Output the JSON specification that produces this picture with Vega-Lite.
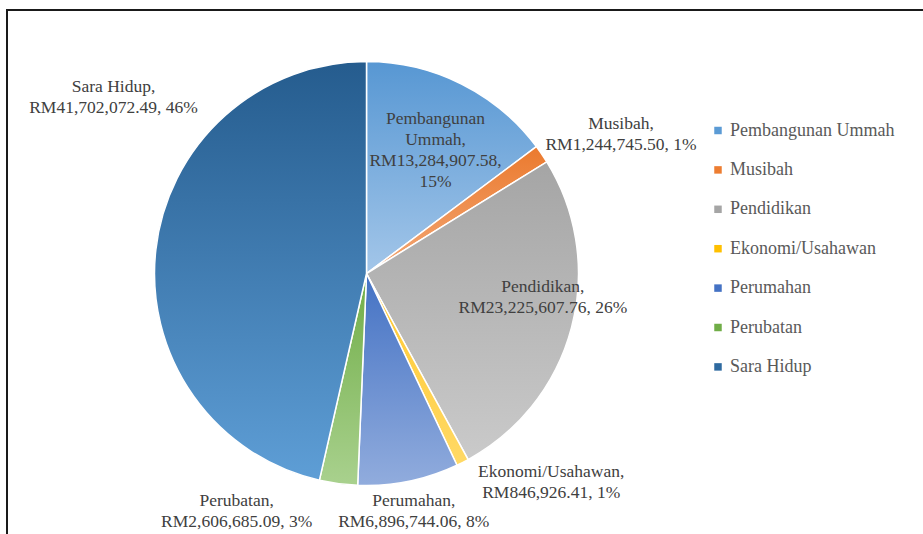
{
  "$schema": "https://vega.github.io/schema/vega-lite/v6.json",
  "width": 918,
  "height": 526,
  "autosize": {"type": "none"},
  "padding": {"left": 7, "top": 10, "right": -2, "bottom": -2},
  "background": "white",
  "view": {"stroke": "#1a1a1a", "strokeWidth": 2, "fill": "white"},
  "config": {
    "font": "Liberation Serif",
    "legend": {"labelFont": "Liberation Serif"},
    "text": {"font": "Liberation Serif"},
    "style": {"guide-label": {"font": "Liberation Serif"}}
  },
  "data": {
    "values": [
      {"name": "Pembangunan Ummah", "o": 1, "value": 13284907.58, "label": ["Pembangunan", "Ummah,", "RM13,284,907.58,", "15%"]},
      {"name": "Musibah", "o": 2, "value": 1244745.50, "label": ["Musibah,", "RM1,244,745.50, 1%"]},
      {"name": "Pendidikan", "o": 3, "value": 23225607.76, "label": ["Pendidikan,", "RM23,225,607.76, 26%"]},
      {"name": "Ekonomi/Usahawan", "o": 4, "value": 846926.41, "label": ["Ekonomi/Usahawan,", "RM846,926.41, 1%"]},
      {"name": "Perumahan", "o": 5, "value": 6896744.06, "label": ["Perumahan,", "RM6,896,744.06, 8%"]},
      {"name": "Perubatan", "o": 6, "value": 2606685.09, "label": ["Perubatan,", "RM2,606,685.09, 3%"]},
      {"name": "Sara Hidup", "o": 7, "value": 41702072.49, "label": ["Sara Hidup,", "RM41,702,072.49, 46%"]}
    ]
  },
  "transform": [
    {"stack": "value", "groupby": [], "sort": [{"field": "o", "order": "ascending"}], "as": ["start", "end"]},
    {"calculate": "(datum.start + datum.end) / 2", "as": "mid"}
  ],
  "layer": [
    {
      "mark": {"type": "arc", "x": 359.5, "y": 263.5, "outerRadius": 212, "stroke": "white", "strokeWidth": 1.5},
      "encoding": {
        "theta": {"field": "end", "type": "quantitative", "scale": {"zero": true, "nice": false}},
        "theta2": {"field": "start"},
        "color": {
          "field": "name",
          "type": "nominal",
          "scale": {
            "domain": ["Pembangunan Ummah", "Musibah", "Pendidikan", "Ekonomi/Usahawan", "Perumahan", "Perubatan", "Sara Hidup"],
            "range": ["#5B9BD5", "#ED7D31", "#A5A5A5", "#FFC000", "#4472C4", "#70AD47", "#2E6AA0"]
          },
          "legend": {
            "orient": "none",
            "legendX": 702,
            "legendY": 111.5,
            "title": null,
            "padding": 0,
            "symbolType": "square",
            "symbolSize": 56,
            "symbolStrokeWidth": 0,
            "labelFont": "Liberation Serif",
            "labelFontSize": 18,
            "labelColor": "#595959",
            "labelOffset": 3,
            "rowPadding": 21.4,
            "labelLimit": 300,
            "encode": {"labels": {"update": {"font": {"value": "Liberation Serif"}}}}
          }
        }
      }
    },
    {
      "mark": {"type": "arc", "x": 359.5, "y": 263.5, "outerRadius": 212, "stroke": "white", "strokeWidth": 1.5},
      "encoding": {
        "theta": {"field": "end", "type": "quantitative"},
        "theta2": {"field": "start"},
        "fill": {
          "condition": [
            {"test": "datum.name === 'Pembangunan Ummah'", "value": {"gradient": "linear", "x1": 0, "y1": 0, "x2": 0, "y2": 1, "stops": [{"offset": 0, "color": "#5797D3"}, {"offset": 1, "color": "#A3C6E9"}]}},
            {"test": "datum.name === 'Musibah'", "value": {"gradient": "linear", "x1": 0, "y1": 0, "x2": 0, "y2": 1, "stops": [{"offset": 0, "color": "#EB7A2E"}, {"offset": 1, "color": "#F3A877"}]}},
            {"test": "datum.name === 'Pendidikan'", "value": {"gradient": "linear", "x1": 0, "y1": 0, "x2": 0, "y2": 1, "stops": [{"offset": 0, "color": "#A5A5A5"}, {"offset": 1, "color": "#CACACA"}]}},
            {"test": "datum.name === 'Ekonomi/Usahawan'", "value": {"gradient": "linear", "x1": 0, "y1": 0, "x2": 0, "y2": 1, "stops": [{"offset": 0, "color": "#FFC82E"}, {"offset": 1, "color": "#FFD966"}]}},
            {"test": "datum.name === 'Perumahan'", "value": {"gradient": "linear", "x1": 0, "y1": 0, "x2": 0, "y2": 1, "stops": [{"offset": 0, "color": "#4472C4"}, {"offset": 1, "color": "#91ACDD"}]}},
            {"test": "datum.name === 'Perubatan'", "value": {"gradient": "linear", "x1": 0, "y1": 0, "x2": 0, "y2": 1, "stops": [{"offset": 0, "color": "#70AD47"}, {"offset": 1, "color": "#A9D18E"}]}},
            {"test": "datum.name === 'Sara Hidup'", "value": {"gradient": "linear", "x1": 0, "y1": 0, "x2": 0, "y2": 1, "stops": [{"offset": 0, "color": "#255C8E"}, {"offset": 1, "color": "#5E9ED6"}]}}
          ],
          "value": "#999999"
        }
      }
    },
    {
      "transform": [{"filter": "datum.name === 'Pembangunan Ummah'"}],
      "mark": {"type": "text", "x": 359.5, "y": 263.5, "radius": 141, "thetaOffset": 0.047, "dy": -31.5, "font": "Liberation Serif", "fontSize": 17.5, "lineHeight": 21, "color": "#404040", "align": "center", "baseline": "middle"},
      "encoding": {"theta": {"field": "mid", "type": "quantitative"}, "text": {"field": "label"}}
    },
    {
      "transform": [{"filter": "datum.name === 'Musibah'"}],
      "mark": {"type": "text", "x": 359.5, "y": 263.5, "radius": 290, "thetaOffset": 0.098, "dy": -10.5, "font": "Liberation Serif", "fontSize": 17.5, "lineHeight": 21, "color": "#404040", "align": "center", "baseline": "middle"},
      "encoding": {"theta": {"field": "mid", "type": "quantitative"}, "text": {"field": "label"}}
    },
    {
      "transform": [{"filter": "datum.name === 'Pendidikan'"}],
      "mark": {"type": "text", "x": 359.5, "y": 263.5, "radius": 178, "thetaOffset": -0.124, "dy": -10.5, "font": "Liberation Serif", "fontSize": 17.5, "lineHeight": 21, "color": "#404040", "align": "center", "baseline": "middle"},
      "encoding": {"theta": {"field": "mid", "type": "quantitative"}, "text": {"field": "label"}}
    },
    {
      "transform": [{"filter": "datum.name === 'Ekonomi/Usahawan'"}],
      "mark": {"type": "text", "x": 359.5, "y": 263.5, "radius": 279, "thetaOffset": -0.253, "dy": -10.5, "font": "Liberation Serif", "fontSize": 17.5, "lineHeight": 21, "color": "#404040", "align": "center", "baseline": "middle"},
      "encoding": {"theta": {"field": "mid", "type": "quantitative"}, "text": {"field": "label"}}
    },
    {
      "transform": [{"filter": "datum.name === 'Perumahan'"}],
      "mark": {"type": "text", "x": 359.5, "y": 263.5, "radius": 243, "thetaOffset": 0.004, "dy": -10.5, "font": "Liberation Serif", "fontSize": 17.5, "lineHeight": 21, "color": "#404040", "align": "center", "baseline": "middle"},
      "encoding": {"theta": {"field": "mid", "type": "quantitative"}, "text": {"field": "label"}}
    },
    {
      "transform": [{"filter": "datum.name === 'Perubatan'"}],
      "mark": {"type": "text", "x": 359.5, "y": 263.5, "radius": 271, "thetaOffset": 0.367, "dy": -10.5, "font": "Liberation Serif", "fontSize": 17.5, "lineHeight": 21, "color": "#404040", "align": "center", "baseline": "middle"},
      "encoding": {"theta": {"field": "mid", "type": "quantitative"}, "text": {"field": "label"}}
    },
    {
      "transform": [{"filter": "datum.name === 'Sara Hidup'"}],
      "mark": {"type": "text", "x": 359.5, "y": 263.5, "radius": 308, "thetaOffset": 0.495, "dy": -10.5, "font": "Liberation Serif", "fontSize": 17.5, "lineHeight": 21, "color": "#404040", "align": "center", "baseline": "middle"},
      "encoding": {"theta": {"field": "mid", "type": "quantitative"}, "text": {"field": "label"}}
    }
  ]
}
